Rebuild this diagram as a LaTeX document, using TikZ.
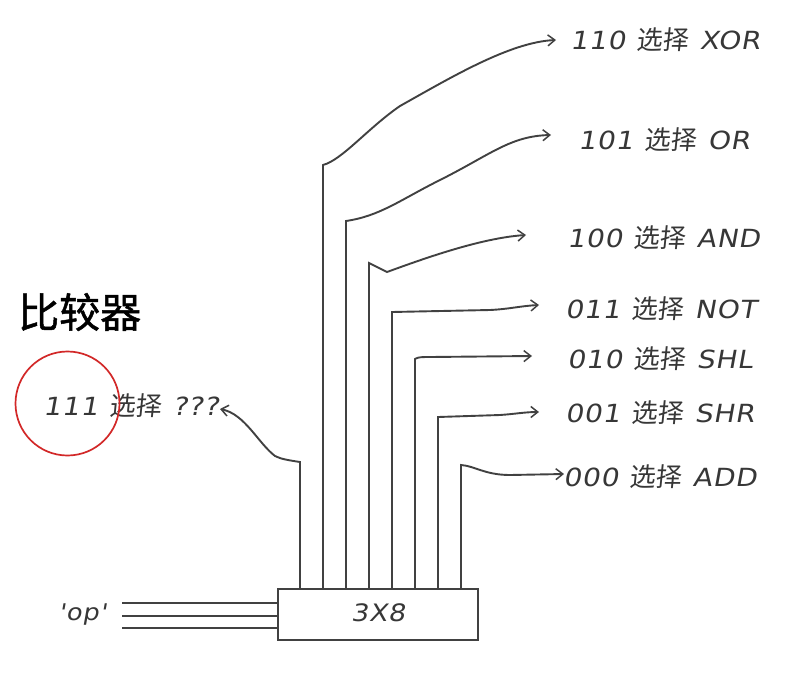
\documentclass[tikz,border=0pt]{standalone}
\usepackage{fontspec}
\usetikzlibrary{arrows.meta}
\newfontfamily\hand{DejaVu Sans}[FakeSlant=0.18,FakeStretch=1.12,LetterSpace=3]
\newfontfamily\cjk{Noto Sans CJK SC}[FakeSlant=0.1]
\newfontfamily\cjktitle{Noto Sans CJK SC}[FakeBold=1.2]
\newcommand\selx[2]{{\hand #1}\hspace{0.45em}{\cjk\fontsize{26}{28}\selectfont 选择}\hspace{0.45em}{\hand #2}}
\definecolor{ink}{RGB}{65,65,65}
\definecolor{txt}{RGB}{55,55,55}
\definecolor{circred}{RGB}{210,40,40}
\tikzset{
  wire/.style={draw=ink,line width=1.9pt},
  arr/.style={wire,-{Straight Barb[length=7pt,width=11pt,line width=1.5pt]}},
  lbl/.style={anchor=west,inner sep=0pt,text=txt,font=\fontsize{25}{28}\selectfont},
  box/.style={draw=ink,line width=1.9pt,fill=white,minimum width=200pt,minimum height=51pt,inner sep=0pt}
}
\begin{document}
\begin{tikzpicture}[x=1pt,y=-1pt]
\useasboundingbox (0,0) rectangle (786,688);
% decoder box
\node[box] (dec) at (378,614.5) {};
\node[text=txt,font=\hand\fontsize{24}{26}\selectfont] (dectext) at (378,613) {3X8};
% input lines
\coordinate (i1) at (122,603);
\coordinate (i2) at (122,616);
\coordinate (i3) at (122,628);
\draw[wire] (i1) -- (i1 -| dec.west);
\draw[wire] (i2) -- (i2 -| dec.west);
\draw[wire] (i3) -- (i3 -| dec.west);
\node[lbl,font=\hand\fontsize{23}{25}\selectfont] (op) at (58,614) {'op'};
% labels
\node[lbl] (l7) at (570,40) {\selx{110}{XOR}};
\node[lbl] (l6) at (578,140) {\selx{101}{OR}};
\node[lbl] (l5) at (567,238) {\selx{100}{AND}};
\node[lbl] (l4) at (565,309) {\selx{011}{NOT}};
\node[lbl] (l3) at (567,359) {\selx{010}{SHL}};
\node[lbl] (l2) at (565,413) {\selx{001}{SHR}};
\node[lbl] (l1) at (563,477) {\selx{000}{ADD}};
\node[lbl] (l0) at (43,406) {\selx{111}{???}};
% title and circle
\node[anchor=west,inner sep=0pt,font=\cjktitle\fontsize{41}{44}\selectfont] (title) at (18,312) {比较器};
\node[draw=circred,line width=1.7pt,circle,minimum size=104pt,inner sep=0pt] (ring) at (67.5,403.5) {};
% wire bottoms on top of the box
\foreach \i/\x in {0/300,1/323,2/346,3/369,4/392,5/415,6/438,7/461}
  \coordinate (b\i) at (\x,589);
% arrow tips
\coordinate (t0) at (220,409);
\coordinate (t7) at (556,40);
\coordinate (t6) at (551,135);
\coordinate (t5) at (526,235);
\coordinate (t4) at (539,305);
\coordinate (t3) at (532,356);
\coordinate (t2) at (539,412);
\coordinate (t1) at (564,474);
% wires
\draw[arr] (b0) -- (300,462) .. controls (287,460) and (281,459) .. (275,456) .. controls (258,443) and (245,414) .. (t0);
\draw[arr] (b1) -- (323,165) .. controls (342,160) and (368,128) .. (400,106) .. controls (450,78) and (510,42) .. (t7);
\draw[arr] (b2) -- (346,221) .. controls (380,216) and (400,200) .. (440,180) .. controls (490,155) and (510,136) .. (t6);
\draw[arr] (b3) -- (369,263) -- (387,272) .. controls (420,260) and (480,238) .. (t5);
\draw[arr] (b4) -- (392,312) -- (490,310) .. controls (510,309) and (520,306) .. (t4);
\draw[arr] (b5) -- (415,359) .. controls (418,357) and (422,357) .. (430,357) -- (t3);
\draw[arr] (b6) -- (438,417) -- (500,415) .. controls (515,414) and (525,412) .. (t2);
\draw[arr] (b7) -- (461,465) .. controls (475,466) and (485,475) .. (510,475) -- (t1);
\end{tikzpicture}
\end{document}
